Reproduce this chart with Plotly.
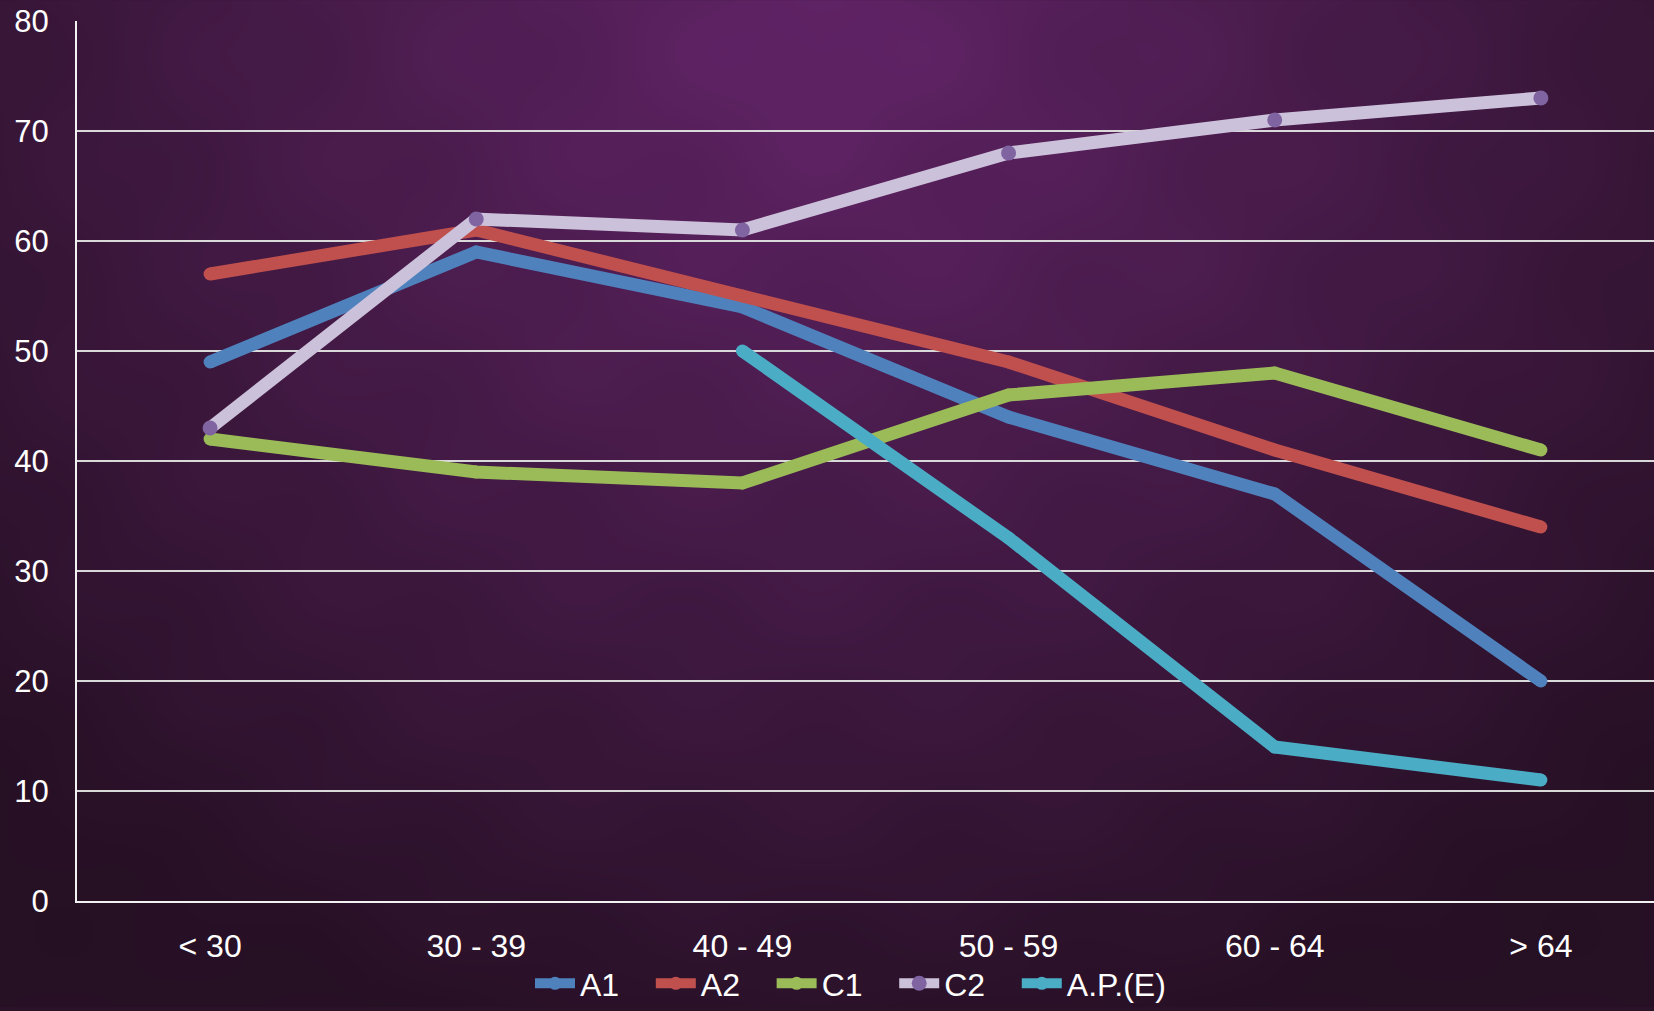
import base64, struct, zlib
import numpy as np
import plotly.graph_objects as go

categories = ["< 30", "30 - 39", "40 - 49", "50 - 59", "60 - 64", "> 64"]
series_names = ["A1", "A2", "C1", "C2", "A.P.(E)"]
a1 = [49, 59, 54, 44, 37, 20]
a2 = [57, 61, 55, 49, 41, 34]
c1 = [42, 39, 38, 46, 48, 41]
c2 = [43, 62, 61, 68, 71, 73]
ape = [None, None, 50, 33, 14, 11]

W, H = 1654, 1011
ML, MR, MT, MB = 77, 0, 21, 106


def make_bg(w, h):
    yy, xx = np.mgrid[0:h, 0:w].astype(float)
    sx, sy = W / w, H / h
    X, Y = xx * sx, yy * sy
    d = np.sqrt(((X - 820) / 1150) ** 2 + ((Y - 40) / 1050) ** 2)
    d = np.clip(d, 0, 1) ** 1.0
    c0 = np.array([100, 37, 106], float)
    c1_ = np.array([40, 17, 38], float)
    img = c0[None, None, :] * (1 - d[..., None]) + c1_[None, None, :] * d[..., None]
    pat = 0.5 + 0.5 * np.sin(X / 40.0) * np.sin(Y / 35.0)
    img = img * (1 - 0.06 * pat[..., None])
    img = np.clip(img, 0, 255).astype(np.uint8)
    raw = b"".join(b"\x00" + img[r].tobytes() for r in range(h))

    def chunk(t, data):
        c = struct.pack(">I", len(data)) + t + data
        return c + struct.pack(">I", zlib.crc32(t + data) & 0xFFFFFFFF)

    png = b"\x89PNG\r\n\x1a\n" + chunk(b"IHDR", struct.pack(">IIBBBBB", w, h, 8, 2, 0, 0, 0))
    png += chunk(b"IDAT", zlib.compress(raw, 9)) + chunk(b"IEND", b"")
    return "data:image/png;base64," + base64.b64encode(png).decode()


bg = make_bg(827, 506)

values = [a1, a2, c1, c2, ape]
line_colors = ["#4F81BD", "#C0504D", "#9BBB59", "#CCC1DA", "#4BACC6"]
marker_colors = ["#4F81BD", "#C0504D", "#9BBB59", "#8064A2", "#4BACC6"]
marker_sizes = [13, 13, 13, 15, 13]

fig = go.Figure()
for i, (name, vals) in enumerate(zip(series_names, values)):
    pad = "" if i == len(series_names) - 1 else "\u00a0\u00a0\u00a0"
    fig.add_trace(go.Scatter(
        x=list(range(len(categories))), y=vals, name=name + pad, mode="lines+markers",
        line=dict(color=line_colors[i], width=13),
        marker=dict(color=marker_colors[i], size=marker_sizes[i], line=dict(width=0)),
        connectgaps=False,
    ))

pw = W - ML - MR
ph = H - MT - MB
fig.add_layout_image(dict(
    source=bg, xref="paper", yref="paper",
    x=-ML / pw, y=1 + MT / ph, sizex=W / pw, sizey=H / ph,
    xanchor="left", yanchor="top", sizing="stretch", layer="below",
))

font = dict(family="Liberation Sans, Arial, sans-serif", size=31, color="white")
fig.update_layout(
    width=W, height=H,
    margin=dict(l=ML, r=MR, t=MT, b=MB),
    paper_bgcolor="#2a1228", plot_bgcolor="rgba(0,0,0,0)",
    font=font,
    showlegend=True,
    legend=dict(orientation="h", x=(530 - ML) / pw, xanchor="left", y=-0.094, yanchor="middle",
                font=dict(family="Liberation Sans, Arial, sans-serif", size=32, color="white"),
                bgcolor="rgba(0,0,0,0)", itemwidth=40, tracegroupgap=0),
    xaxis=dict(
        tickmode="array", tickvals=list(range(len(categories))), ticktext=categories,
        range=[-0.5, 5.425], showgrid=False, zeroline=False, showline=True,
        linecolor="#f2f2f2", linewidth=2, ticks="", ticklabelstandoff=16,
        tickfont=dict(size=32),
    ),
    yaxis=dict(
        range=[0, 80], dtick=10, showgrid=True, gridcolor="#d9d9d9", gridwidth=2,
        zeroline=False, showline=True, linecolor="#f2f2f2", linewidth=2, ticks="",
        ticklabelstandoff=20,
    ),
)
fig.write_html("out.html", config={"displayModeBar": False},
               post_script="document.body.style.margin='0';document.body.style.overflow='hidden';")
